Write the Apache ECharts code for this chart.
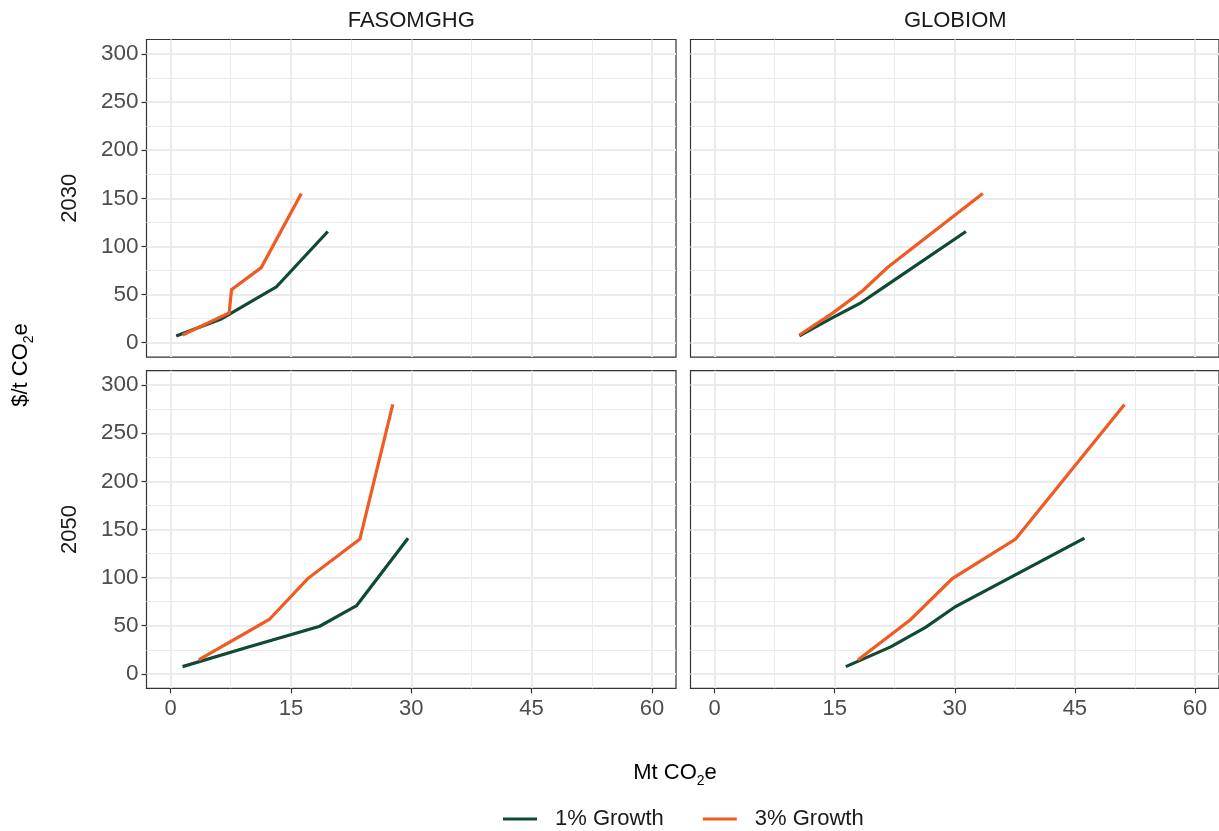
<!DOCTYPE html>
<html>
<head>
<meta charset="utf-8">
<script src="https://cdn.jsdelivr.net/npm/echarts@6/dist/echarts.min.js"></script>
<style>
html,body{margin:0;padding:0;background:#fff;}
#chart{width:1219px;height:831px;}
</style>
</head>
<body>
<div id="chart"></div>
<script>
// ---- data ----
const models = ['FASOMGHG', 'GLOBIOM'];
const years = ['2030', '2050'];
const seriesNames = ['1% Growth', '3% Growth'];
const xTicks = [0, 15, 30, 45, 60];
const xMinor = [7.5, 22.5, 37.5, 52.5];
const yTicks = [0, 50, 100, 150, 200, 250, 300];
const yMinor = [25, 75, 125, 175, 225, 275];

// [Mt CO2e, $/t CO2e]
const fasom2030_g1 = [[0.7, 7], [6.3, 24.5], [9.7, 41], [13.2, 58], [19.6, 115.5]];
const fasom2030_g3 = [[1.5, 8], [7.3, 31], [7.6, 55], [11.3, 78], [16.3, 155]];
const glob2030_g1 = [[10.6, 7], [14.4, 24.5], [18.2, 41], [21.2, 58], [31.4, 115.5]];
const glob2030_g3 = [[10.6, 8], [14.8, 31], [18.5, 54], [21.6, 78], [33.5, 155]];
const fasom2050_g1 = [[1.5, 7.5], [9.7, 28], [18.6, 49.5], [23.2, 71], [29.6, 141]];
const fasom2050_g3 = [[3.5, 14.5], [12.3, 56.5], [17.1, 99], [23.6, 140], [27.7, 280]];
const glob2050_g1 = [[16.4, 7.5], [22.0, 28], [26.4, 48.5], [30.1, 70], [46.2, 141]];
const glob2050_g3 = [[17.9, 14.5], [24.5, 56.5], [29.7, 99], [37.6, 140], [51.2, 280]];

const panelData = [
  [fasom2030_g1, fasom2030_g3],
  [glob2030_g1, glob2030_g3],
  [fasom2050_g1, fasom2050_g3],
  [glob2050_g1, glob2050_g3]
];

// ---- layout ----
const FONT = '"Liberation Sans", Arial, sans-serif';
const colors = ['#0f4a33', '#f05a23'];
const colLeft = [146.5, 690.5];
const colWidth = 529.5;
const rowTop = [39.5, 370.7];
const rowHeight = 317.6;

const grids = [], xAxes = [], yAxes = [], series = [];
for (let g = 0; g < 4; g++) {
  const r = Math.floor(g / 2), c = g % 2;
  grids.push({left: colLeft[c], top: rowTop[r], width: colWidth, height: rowHeight,
    show: true, borderColor: '#333333', borderWidth: 1.2, backgroundColor: 'transparent', containLabel: false});
}
function xAx(g, minor) {
  const r = Math.floor(g / 2);
  const bottomRow = r === 1;
  return {
    type: 'value', gridIndex: g, min: -3, max: 63, position: 'bottom',
    axisLine: {show: false, onZero: false},
    axisTick: {show: !minor && bottomRow, length: 5, inside: false, lineStyle: {color: '#333333', width: 1.2},
      customValues: minor ? xMinor : xTicks},
    axisLabel: {show: !minor && bottomRow, customValues: xTicks, color: '#4d4d4d',
      fontSize: 22, fontFamily: FONT, margin: 10},
    splitLine: {show: true, lineStyle: {color: '#ebebeb', width: minor ? 1 : 1.9}},
    z: minor ? 0 : 1
  };
}
function yAx(g, minor) {
  const c = g % 2;
  const leftCol = c === 0;
  return {
    type: 'value', gridIndex: g, min: -15, max: 315, position: 'left',
    axisLine: {show: false, onZero: false},
    axisTick: {show: !minor && leftCol, length: 5, inside: false, lineStyle: {color: '#333333', width: 1.2},
      customValues: minor ? yMinor : yTicks},
    axisLabel: {show: !minor && leftCol, customValues: yTicks, color: '#4d4d4d',
      fontSize: 22.5, fontFamily: FONT, margin: 8},
    splitLine: {show: true, lineStyle: {color: '#ebebeb', width: minor ? 1 : 1.9}},
    z: minor ? 0 : 1
  };
}
for (let g = 0; g < 4; g++) { xAxes.push(xAx(g, false)); yAxes.push(yAx(g, false)); }
for (let g = 0; g < 4; g++) { xAxes.push(xAx(g, true)); yAxes.push(yAx(g, true)); }

for (let g = 0; g < 4; g++) {
  for (let s = 0; s < 2; s++) {
    series.push({
      type: 'line', name: seriesNames[s], xAxisIndex: g, yAxisIndex: g,
      data: panelData[g][s], showSymbol: false, symbol: 'none',
      lineStyle: {width: 3.2, color: colors[s], cap: 'butt', join: 'miter'},
      itemStyle: {color: colors[s]}, z: 5, animation: false
    });
  }
}

const subRich = {
  n: {fontSize: 22, fontFamily: FONT, fill: '#000', color: '#000', lineHeight: 26, verticalAlign: 'top'},
  s: {fontSize: 14, fontFamily: FONT, fill: '#000', color: '#000', lineHeight: 14, verticalAlign: 'bottom'}
};

const graphics = [];
for (let c = 0; c < 2; c++) {
  graphics.push({type: 'text', x: colLeft[c] + colWidth / 2, y: 20.5,
    style: {text: models[c], fill: '#1a1a1a', font: '22px ' + FONT, textAlign: 'center', textVerticalAlign: 'middle'}});
}
for (let r = 0; r < 2; r++) {
  graphics.push({type: 'text', x: 70, y: rowTop[r] + rowHeight / 2, rotation: Math.PI / 2,
    style: {text: years[r], fill: '#1a1a1a', font: '22px ' + FONT, textAlign: 'center', textVerticalAlign: 'middle'}});
}
graphics.push({type: 'text', x: 675, y: 775,
  style: {text: '{n|Mt CO}{s|2}{n|e}', rich: subRich, textAlign: 'center', textVerticalAlign: 'middle'}});
graphics.push({type: 'text', x: 23, y: 365, rotation: Math.PI / 2,
  style: {text: '{n|$/t CO}{s|2}{n|e}', rich: subRich, textAlign: 'center', textVerticalAlign: 'middle'}});

const option = {
  animation: false,
  backgroundColor: '#ffffff',
  grid: grids,
  xAxis: xAxes,
  yAxis: yAxes,
  series: series,
  legend: {
    data: seriesNames, left: 503, top: 808, orient: 'horizontal', padding: 0,
    icon: 'rect', itemWidth: 34, itemHeight: 3, itemGap: 39,
    textStyle: {fontSize: 22, fontFamily: FONT, color: '#1a1a1a', padding: [0, 0, 0, 13]}
  },
  graphic: graphics
};
const chart = echarts.init(document.getElementById('chart'), null, {renderer: 'canvas'});
chart.setOption(option);
</script>
</body>
</html>
